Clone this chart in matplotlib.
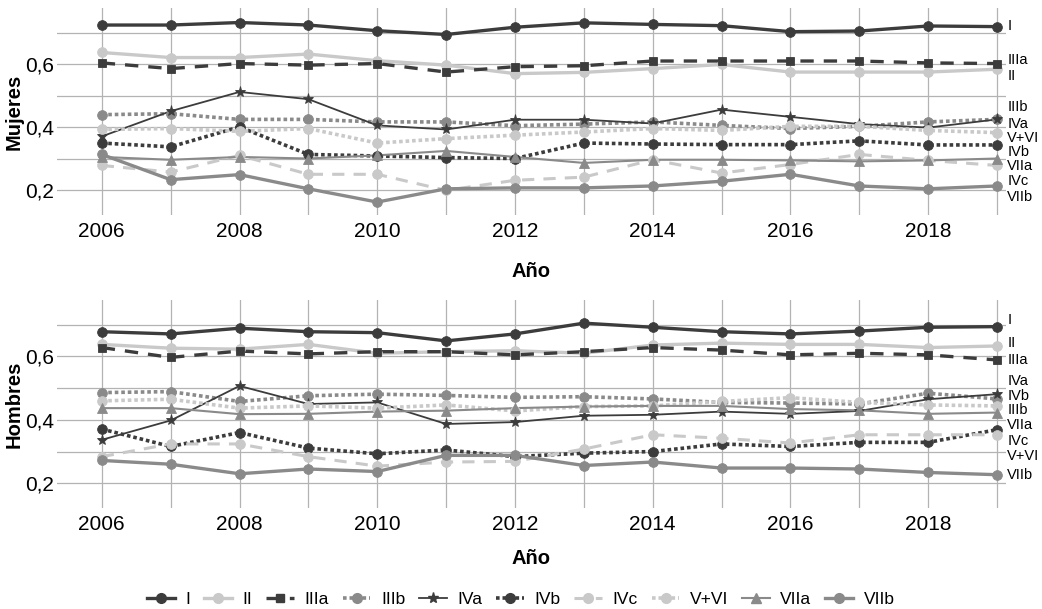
import numpy as np
import matplotlib
matplotlib.use('Agg')
import matplotlib.pyplot as plt
from matplotlib.lines import Line2D
from matplotlib.ticker import FixedLocator, FuncFormatter

plt.rcParams['font.family'] = ['Liberation Sans', 'DejaVu Sans']

years = list(range(2006, 2020))
clases = ['I', 'II', 'IIIa', 'IIIb', 'IVa', 'IVb', 'IVc', 'V+VI', 'VIIa', 'VIIb']

# Mujeres
muj_I = [0.724, 0.724, 0.732, 0.724, 0.706, 0.694, 0.717, 0.731, 0.726, 0.722, 0.703, 0.705, 0.721, 0.719]
muj_II = [0.637, 0.621, 0.621, 0.632, 0.611, 0.597, 0.570, 0.574, 0.586, 0.599, 0.575, 0.575, 0.575, 0.584]
muj_IIIa = [0.604, 0.586, 0.602, 0.597, 0.602, 0.575, 0.592, 0.595, 0.610, 0.610, 0.610, 0.610, 0.604, 0.602]
muj_IIIb = [0.440, 0.443, 0.425, 0.425, 0.417, 0.417, 0.405, 0.410, 0.417, 0.406, 0.396, 0.403, 0.417, 0.425]
muj_IVa = [0.371, 0.451, 0.512, 0.489, 0.406, 0.393, 0.424, 0.424, 0.412, 0.456, 0.433, 0.410, 0.399, 0.425]
muj_IVb = [0.350, 0.338, 0.401, 0.314, 0.309, 0.304, 0.301, 0.350, 0.347, 0.345, 0.345, 0.357, 0.344, 0.344]
muj_IVc = [0.279, 0.258, 0.311, 0.251, 0.251, 0.200, 0.232, 0.242, 0.297, 0.255, 0.282, 0.314, 0.295, 0.279]
muj_VVI = [0.393, 0.396, 0.387, 0.396, 0.350, 0.364, 0.375, 0.385, 0.396, 0.390, 0.403, 0.403, 0.390, 0.383]
muj_VIIa = [0.306, 0.297, 0.306, 0.301, 0.311, 0.325, 0.306, 0.287, 0.297, 0.297, 0.295, 0.292, 0.295, 0.301]
muj_VIIb = [0.314, 0.234, 0.250, 0.205, 0.163, 0.205, 0.208, 0.208, 0.214, 0.229, 0.251, 0.214, 0.205, 0.214]

# Hombres
hom_I = [0.678, 0.671, 0.689, 0.678, 0.675, 0.649, 0.671, 0.705, 0.692, 0.678, 0.671, 0.680, 0.692, 0.694]
hom_II = [0.638, 0.626, 0.623, 0.638, 0.610, 0.615, 0.618, 0.610, 0.636, 0.642, 0.638, 0.638, 0.628, 0.633]
hom_IIIa = [0.628, 0.597, 0.617, 0.608, 0.615, 0.615, 0.605, 0.615, 0.628, 0.620, 0.605, 0.610, 0.605, 0.589]
hom_IIIb = [0.486, 0.489, 0.458, 0.476, 0.481, 0.477, 0.471, 0.473, 0.466, 0.455, 0.453, 0.450, 0.484, 0.466]
hom_IVa = [0.337, 0.398, 0.507, 0.450, 0.455, 0.387, 0.393, 0.413, 0.416, 0.426, 0.419, 0.428, 0.465, 0.481]
hom_IVb = [0.371, 0.316, 0.360, 0.311, 0.293, 0.305, 0.284, 0.295, 0.300, 0.324, 0.316, 0.329, 0.329, 0.369]
hom_IVc = [0.284, 0.324, 0.324, 0.284, 0.254, 0.267, 0.269, 0.308, 0.353, 0.342, 0.327, 0.353, 0.353, 0.353]
hom_VVI = [0.460, 0.465, 0.437, 0.444, 0.437, 0.447, 0.428, 0.442, 0.444, 0.458, 0.470, 0.455, 0.447, 0.444]
hom_VIIa = [0.437, 0.437, 0.418, 0.419, 0.426, 0.429, 0.437, 0.442, 0.444, 0.444, 0.434, 0.430, 0.419, 0.423]
hom_VIIb = [0.272, 0.260, 0.230, 0.245, 0.237, 0.288, 0.288, 0.256, 0.267, 0.248, 0.248, 0.245, 0.234, 0.227]

mujeres = [muj_I, muj_II, muj_IIIa, muj_IIIb, muj_IVa, muj_IVb, muj_IVc, muj_VVI, muj_VIIa, muj_VIIb]
hombres = [hom_I, hom_II, hom_IIIa, hom_IIIb, hom_IVa, hom_IVb, hom_IVc, hom_VVI, hom_VIIa, hom_VIIb]

# where the end labels sit (repelled, as in the original)
lab_y_muj = [0.720, 0.564, 0.614, 0.463, 0.411, 0.323, 0.229, 0.367, 0.278, 0.180]
lab_y_hom = [0.716, 0.642, 0.590, 0.432, 0.521, 0.474, 0.333, 0.287, 0.383, 0.226]

dark, mid, light = '#3c3c3c', '#8a8a8a', '#c9c9c9'
dotted = (0, (1.0, 0.8))
dashed = (0, (4, 3))
estilos = {
    'I':    dict(color=dark, ls='-', lw=2.4, marker='o', ms=7),
    'II':   dict(color=light, ls='-', lw=2.4, marker='o', ms=7),
    'IIIa': dict(color=dark, ls=dashed, lw=2.4, marker='s', ms=6),
    'IIIb': dict(color=mid, ls=dotted, lw=2.6, marker='o', ms=7),
    'IVa':  dict(color=dark, ls='-', lw=1.3, marker='*', ms=8),
    'IVb':  dict(color=dark, ls=dotted, lw=2.6, marker='o', ms=7),
    'IVc':  dict(color=light, ls=dashed, lw=2.2, marker='o', ms=7),
    'V+VI': dict(color=light, ls=dotted, lw=2.6, marker='o', ms=7),
    'VIIa': dict(color=mid, ls='-', lw=1.5, marker='^', ms=7),
    'VIIb': dict(color=mid, ls='-', lw=2.4, marker='o', ms=7),
}

fig = plt.figure(figsize=(10.42, 6.09), dpi=100)
ax1 = fig.add_axes([57 / 1042, 1 - 215 / 609, (1006 - 57) / 1042, 207 / 609])
ax2 = fig.add_axes([57 / 1042, 1 - 508 / 609, (1006 - 57) / 1042, 208 / 609])

for ax, datos, lab_y, ylab, xpad in [(ax1, mujeres, lab_y_muj, 'Mujeres', 15),
                                     (ax2, hombres, lab_y_hom, 'Hombres', 11)]:
    for c, vals in zip(clases, datos):
        st = estilos[c]
        ax.plot(years, vals, color=st['color'], linestyle=st['ls'], linewidth=st['lw'],
                dash_capstyle='butt', zorder=2)
    for c, vals in zip(clases, datos):
        st = estilos[c]
        ax.plot(years, vals, linestyle='none', marker=st['marker'], markersize=st['ms'],
                color=st['color'], markeredgewidth=0.6, zorder=3)
    for c, vals, ly in zip(clases, datos, lab_y):
        ax.text(2019.15, ly, c, fontsize=10.5, va='center', ha='left', clip_on=False)

    ax.set_xlim(2005.35, 2019.13)
    ax.set_ylim(0.122, 0.778)
    ax.xaxis.set_major_locator(FixedLocator(range(2006, 2020, 2)))
    ax.xaxis.set_minor_locator(FixedLocator(range(2007, 2020, 2)))
    ax.yaxis.set_major_locator(FixedLocator([0.2, 0.4, 0.6]))
    ax.yaxis.set_minor_locator(FixedLocator([0.3, 0.5, 0.7]))
    ax.yaxis.set_major_formatter(FuncFormatter(lambda v, p: f'{v:.1f}'.replace('.', ',')))
    ax.grid(which='both', color='#b3b3b3', linewidth=0.9, zorder=0)
    ax.set_axisbelow(True)
    ax.tick_params(which='both', length=0, labelsize=15, pad=2)
    ax.tick_params(axis='x', pad=5)
    for s in ax.spines.values():
        s.set_visible(False)
    ax.set_xlabel('Año', fontsize=14.5, fontweight='bold', labelpad=xpad)
    ax.set_ylabel(ylab, fontsize=14.5, fontweight='bold', labelpad=1)

handles = [Line2D([0], [0], color=estilos[c]['color'], linestyle=estilos[c]['ls'],
                  linewidth=estilos[c]['lw'], marker=estilos[c]['marker'],
                  markersize=estilos[c]['ms'], dash_capstyle='butt') for c in clases]
fig.legend(handles, clases, loc='center', bbox_to_anchor=(521 / 1042, 1 - 599 / 609),
           ncol=len(clases), frameon=False, fontsize=12.5, handlelength=1.6,
           handletextpad=0.6, columnspacing=0.8)

fig.savefig('out.png', dpi=100, facecolor='white')
